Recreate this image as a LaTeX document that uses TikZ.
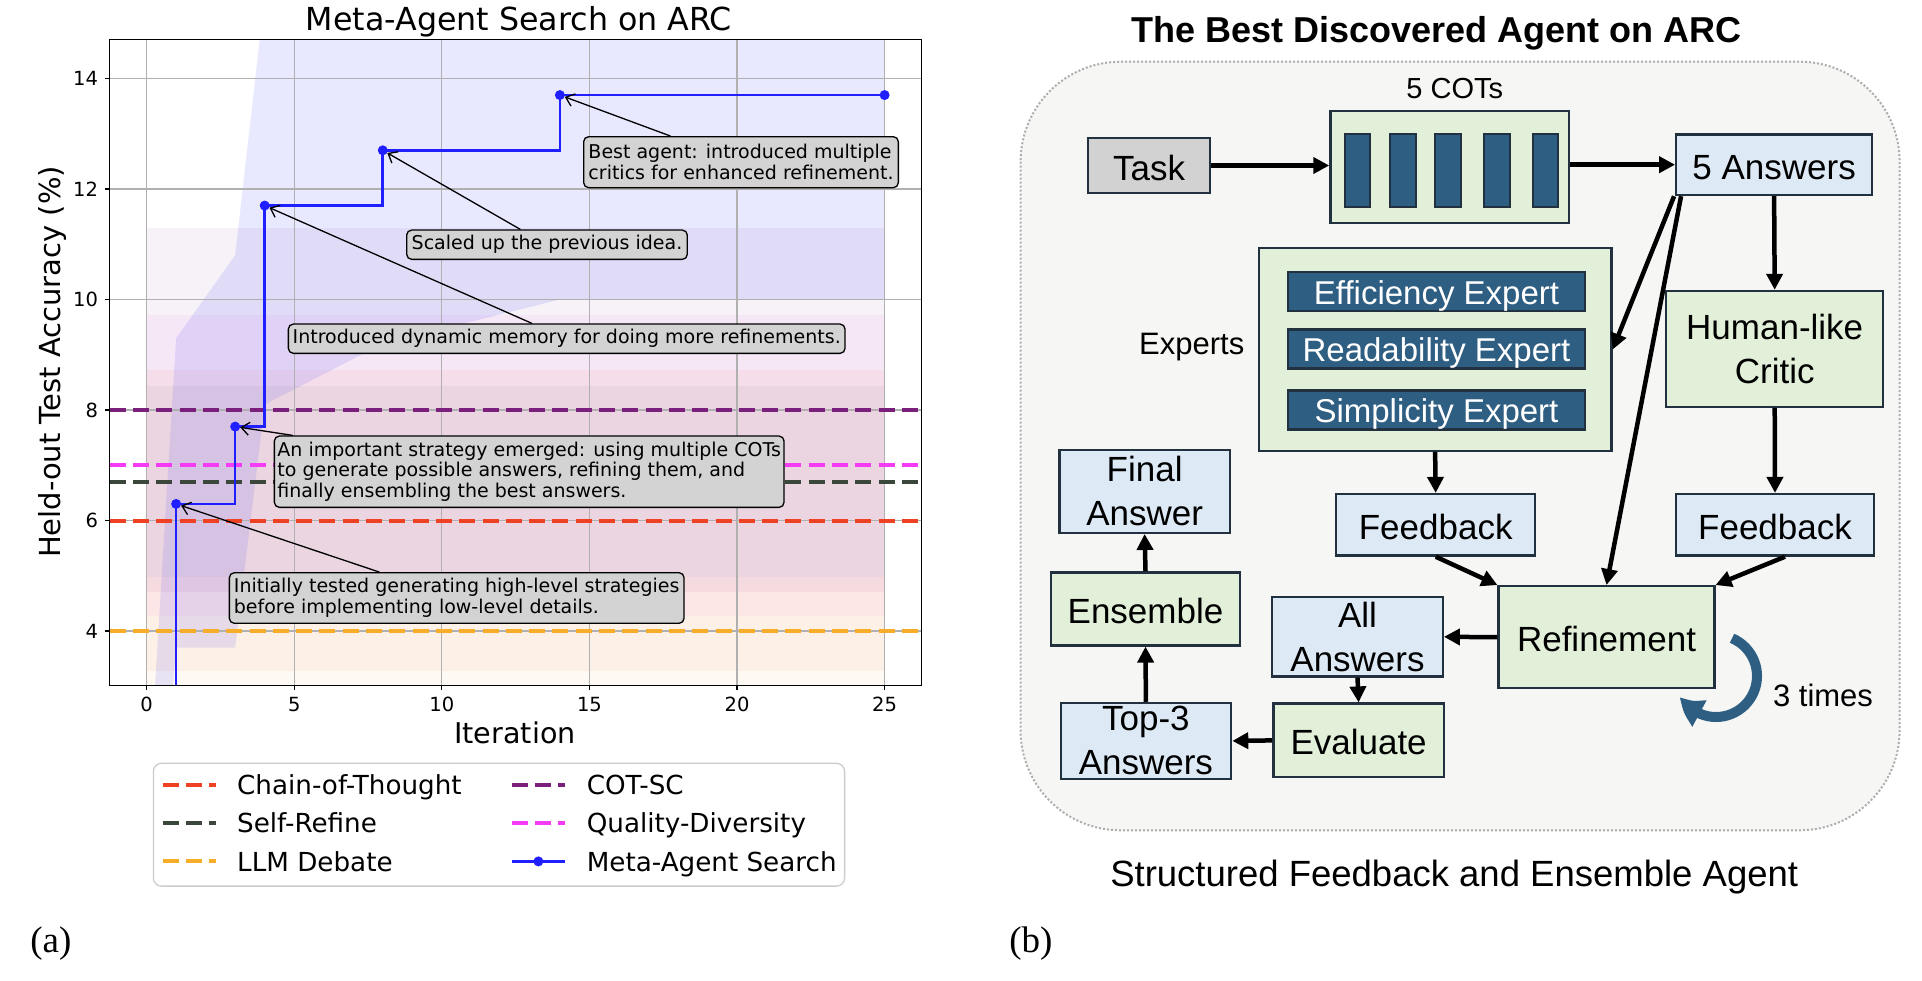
\documentclass[tikz,border=0pt]{standalone}
\usepackage{fontspec}
\newfontfamily\dvs{DejaVu Sans}
\newfontfamily\lsans{Liberation Sans}
\newfontfamily\lserif{Liberation Serif}
\usetikzlibrary{arrows.meta,bending}
\definecolor{cotred}{HTML}{EF4123}
\definecolor{srgray}{HTML}{3C473C}
\definecolor{llmorange}{HTML}{F5AD2A}
\definecolor{cotsc}{HTML}{7B1F7D}
\definecolor{qdmag}{HTML}{F53BF5}
\definecolor{metablue}{HTML}{1F1FFF}
\definecolor{gridgray}{HTML}{B0B0B0}
\definecolor{boxedge}{HTML}{22313F}
\definecolor{taskgray}{HTML}{D2D2D2}
\definecolor{lblue}{HTML}{DDEAF6}
\definecolor{lgreen}{HTML}{E2F0D9}
\definecolor{dblue}{HTML}{2E5E82}
\definecolor{panelbg}{HTML}{F6F6F5}
\definecolor{paneledge}{HTML}{ADADAD}
\definecolor{annfill}{HTML}{D3D3D3}
\definecolor{legedge}{HTML}{CCCCCC}
\tikzset{
  gridline/.style={gridgray, line width=1.3pt},
  baseln/.style={line width=4pt, dash pattern=on 16pt off 7.3pt},
  band/.style={fill opacity=0.055},
  mkr/.style={circle, fill=metablue, inner sep=0pt, minimum size=10pt},
  ticklbl/.style={font=\dvs\fontsize{19.5}{22}\selectfont, inner sep=0pt},
  annbox/.style={draw=black, line width=1.3pt, fill=annfill, rounded corners=5pt, align=left, inner sep=0pt, font=\dvs\fontsize{19}{20.7}\selectfont},
  annarrow/.style={line width=1.3pt, -{Straight Barb[length=8pt,width=13pt]}},
  legtext/.style={font=\dvs\fontsize{26.2}{28}\selectfont, anchor=base west, inner sep=0pt},
  rbox/.style={draw=boxedge, line width=2.3pt, inner sep=0pt, align=center, font=\lsans\fontsize{35}{44}\selectfont},
  oneline/.style={text height=29pt, text depth=0pt},
  greenbox/.style={rbox, fill=lgreen},
  bluebox/.style={rbox, fill=lblue},
  expbox/.style={rbox, fill=dblue, text=white, font=\lsans\fontsize{33}{40}\selectfont, minimum width=297pt, minimum height=39pt, text height=25.6pt, text depth=0pt},
  cotbar/.style={draw=boxedge, line width=2pt, fill=dblue, minimum width=25.5pt, minimum height=72.4pt, inner sep=0pt},
  arr/.style={line width=4.5pt, -{Triangle[length=16pt,width=16pt]}},
  plainlbl/.style={inner sep=0pt},
}
\begin{document}
\begin{tikzpicture}[x=1pt,y=-1pt]
\useasboundingbox (0,0) rectangle (1922,980);
\fill[white] (0,0) rectangle (1922,980);

% ================= LEFT: plot =================
\node[plainlbl, font=\dvs\fontsize{31.7}{34}\selectfont, anchor=base] (ltitle) at (519,30.7) {Meta-Agent Search on ARC};
\node[plainlbl, font=\dvs\fontsize{29}{32}\selectfont, rotate=90] (ylab) at (52,362) {Held-out Test Accuracy (\%)};
\node[plainlbl, font=\dvs\fontsize{28.6}{32}\selectfont] (xlab) at (515,733) {Iteration};

\begin{scope}[shift={(146.6pt,-852pt)}, x={(29.52pt,0pt)}, y={(0pt,55.25pt)}]
  \begin{scope}
    \clip (-1.25,3.02) rectangle (26.25,14.70);
    % baseline confidence bands
    \fill[cotsc, band] (0,4.7) rectangle (25,11.3);
    \fill[qdmag, band] (0,4.28) rectangle (25,9.72);
    \fill[srgray, band] (0,4.97) rectangle (25,8.43);
    \fill[cotred, band] (0,3.28) rectangle (25,8.72);
    \fill[llmorange, band] (0,2.5) rectangle (25,4.97);
    % Meta-Agent Search band
    \fill[metablue, fill opacity=0.1] (0,0.5) -- (1,9.3) -- (3,10.8) -- (4,15.5) -- (8,16) -- (14,16) -- (25,16)
      -- (25,10) -- (14,10) -- (8,9.2) -- (4,8.1) -- (3,3.7) -- (1,3.7) -- (0,-3) -- cycle;
    % grid
    \foreach \t in {0,5,...,25} \draw[gridline] (\t,3.02) -- (\t,14.70);
    \foreach \t in {4,6,...,14} \draw[gridline] (-1.25,\t) -- (26.25,\t);
    % baselines
    \draw[baseln, cotred] (-1.25,6) -- (26.25,6);
    \draw[baseln, srgray] (-1.25,6.7) -- (26.25,6.7);
    \draw[baseln, llmorange] (-1.25,4) -- (26.25,4);
    \draw[baseln, cotsc] (-1.25,8) -- (26.25,8);
    \draw[baseln, qdmag] (-1.25,7) -- (26.25,7);
    % meta agent search
    \draw[metablue, line width=2.6pt] (1,2) -- (1,6.3) -- (3,6.3) -- (3,7.7) -- (4,7.7) -- (4,11.7) -- (8,11.7)
      -- (8,12.7) -- (14,12.7) -- (14,13.7) -- (25,13.7);
  \end{scope}
  \node[mkr] (m1) at (1,6.3) {};
  \node[mkr] (m2) at (3,7.7) {};
  \node[mkr] (m3) at (4,11.7) {};
  \node[mkr] (m4) at (8,12.7) {};
  \node[mkr] (m5) at (14,13.7) {};
  \node[mkr] (m6) at (25,13.7) {};
  % spines and ticks
  \draw[line width=1.3pt] (-1.25,3.02) rectangle (26.25,14.70);
  \foreach \t in {0,5,...,25} {
    \draw[line width=1.3pt] (\t,3.02) -- ++(0pt,-5pt);
    \node[ticklbl] (xt\t) at ([yshift=-19.4pt]\t,3.02) {\t};
  }
  \foreach \t in {4,6,...,14} {
    \draw[line width=1.3pt] (-1.25,\t) -- ++(-5pt,0pt);
    \node[ticklbl, anchor=east] (yt\t) at ([xshift=-11.5pt]-1.25,\t) {\t};
  }
\end{scope}

% annotations
\node[annbox, minimum width=314.7pt, minimum height=51pt] (ann1) at (741,162.2) {Best agent: introduced multiple\\critics for enhanced refinement.};
\node[annbox, minimum width=280.6pt, minimum height=29.3pt] (ann2) at (547,244.7) {Scaled up the previous idea.};
\node[annbox, minimum width=556.7pt, minimum height=29.3pt] (ann3) at (566.7,338.7) {Introduced dynamic memory for doing more refinements.};
\node[annbox, minimum width=509.7pt, minimum height=71.3pt] (ann4) at (529.2,471.7) {An important strategy emerged: using multiple COTs\\to generate possible answers, refining them, and\\finally ensembling the best answers.};
\node[annbox, minimum width=454.7pt, minimum height=50.6pt] (ann5) at (456.7,598) {Initially tested generating high-level strategies\\before implementing low-level details.};
\draw[annarrow] (ann1) -- (m5);
\draw[annarrow] (ann2) -- (m4);
\draw[annarrow] (ann3) -- (m3);
\draw[annarrow] (ann4) -- (m2);
\draw[annarrow] (ann5) -- (m1);

% legend
\draw[legedge, line width=1.3pt, fill=white, rounded corners=8pt] (153.4,763.3) rectangle (844.6,886.1);
\draw[baseln, cotred] (162.5,784.7) -- (216.1,784.7);
\draw[baseln, srgray] (162.5,822.9) -- (216.1,822.9);
\draw[baseln, llmorange] (162.5,861.4) -- (216.1,861.4);
\draw[baseln, cotsc] (511.6,784.7) -- (565.2,784.7);
\draw[baseln, qdmag] (511.6,822.9) -- (565.2,822.9);
\draw[metablue, line width=2.6pt] (511.6,861.4) -- (565.2,861.4);
\node[mkr] (lgm) at (538.4,861.4) {};
\node[legtext] (lg1) at (237,794.3) {Chain-of-Thought};
\node[legtext] (lg2) at (237,832.5) {Self-Refine};
\node[legtext] (lg3) at (237,871) {LLM Debate};
\node[legtext] (lg4) at (586.6,794.3) {COT-SC};
\node[legtext] (lg5) at (586.6,832.5) {Quality-Diversity};
\node[legtext] (lg6) at (586.6,871) {Meta-Agent Search};

\node[plainlbl, font=\lserif\fontsize{37}{40}\selectfont] (lbla) at (50.8,943.5) {(a)};

% ================= RIGHT: agent diagram =================
\node[plainlbl, font=\lsans\bfseries\fontsize{36}{40}\selectfont, anchor=base] (rtitle) at (1436.9,42.7) {The Best Discovered Agent on ARC};
\draw[paneledge, line width=2pt, dash pattern=on 2pt off 2pt, fill=panelbg, rounded corners=100pt] (1020.6,61.7) rectangle (1899.6,830.3);

\node[rbox, oneline, fill=taskgray, minimum width=122pt, minimum height=55.6pt] (task) at (1149,165.5) {Task};
\node[greenbox, minimum width=238.8pt, minimum height=111.7pt] (cots) at (1449.8,166.9) {};
\node[cotbar] (bar1) at (1357.5,170.5) {};
\node[cotbar] (bar2) at (1402.8,170.5) {};
\node[cotbar] (bar3) at (1448,170.5) {};
\node[cotbar] (bar4) at (1496.9,170.5) {};
\node[cotbar] (bar5) at (1545.6,170.5) {};
\node[plainlbl, font=\lsans\fontsize{29}{32}\selectfont] (cotslbl) at (1454.8,88.5) {5 COTs};
\node[bluebox, oneline, minimum width=195.8pt, minimum height=60.7pt] (ans5) at (1774.1,164.7) {5 Answers};

\node[greenbox, minimum width=352.8pt, minimum height=202.4pt] (experts) at (1435.1,349.5) {};
\node[expbox] (eff) at (1436.5,291.3) {Efficiency Expert};
\node[expbox] (read) at (1436.5,349) {Readability Expert};
\node[expbox] (simp) at (1436.5,410) {Simplicity Expert};
\node[plainlbl, font=\lsans\fontsize{31}{34}\selectfont] (explbl) at (1191.7,346.7) {Experts};

\node[greenbox, minimum width=217pt, minimum height=115.7pt] (critic) at (1774.7,348.8) {Human-like\\Critic};
\node[bluebox, minimum width=170.5pt, minimum height=82.8pt] (final) at (1144.6,491.4) {Final\\Answer};
\node[bluebox, oneline, minimum width=198.8pt, minimum height=61.5pt] (fbl) at (1435.7,524.8) {Feedback};
\node[bluebox, oneline, minimum width=197.6pt, minimum height=61.5pt] (fbr) at (1775,524.8) {Feedback};
\node[greenbox, oneline, minimum width=215.8pt, minimum height=102pt] (refine) at (1606.5,637.2) {Refinement};
\node[bluebox, minimum width=170.5pt, minimum height=79.4pt] (allans) at (1357.5,636.8) {All\\Answers};
\node[greenbox, oneline, minimum width=188.7pt, minimum height=73pt] (ensemble) at (1145.5,608.9) {Ensemble};
\node[bluebox, minimum width=170.5pt, minimum height=76pt] (top3) at (1145.9,740.9) {Top-3\\Answers};
\node[greenbox, oneline, minimum width=170.5pt, minimum height=73.7pt] (evaluate) at (1358.6,740.4) {Evaluate};

\draw[arr] (task.east) -- (task.east -| cots.west);
\draw[arr] (cots.east |- ans5.west) -- (ans5.west);
\draw[arr] (ans5.south) -- (critic.north);
\draw[arr] (critic.south) -- (fbr.north);
\draw[arr] (experts.south) -- (fbl.north);
\draw[arr] ([xshift=-1pt]ans5.south west) -- (experts.east);
\draw[arr] ([xshift=6pt]ans5.south west) -- (refine.north);
\draw[arr] (fbl.south) -- (refine.north west);
\draw[arr] ([xshift=10pt]fbr.south) -- (refine.north east);
\draw[arr] (refine.west) -- (allans.east);
\draw[arr] (allans.south) -- (evaluate.north);
\draw[arr] (evaluate.west) -- (top3.east);
\draw[arr] (top3.north) -- (ensemble.south);
\draw[arr] (ensemble.north) -- (final.south);

\coordinate (loopc) at (1716,676);
\draw[dblue, line width=10pt, -{Triangle[length=26pt,width=28pt,bend]}] (loopc) ++(-67:41) arc[start angle=-67, end angle=150, radius=41];
\node[plainlbl, font=\lsans\fontsize{31}{34}\selectfont] (times) at (1823,695.7) {3 times};

\node[plainlbl, font=\lsans\fontsize{36.5}{40}\selectfont, anchor=base] (rcap) at (1454.2,886.1) {Structured Feedback and Ensemble Agent};
\node[plainlbl, font=\lserif\fontsize{37}{40}\selectfont] (lblb) at (1030.9,943.5) {(b)};
\end{tikzpicture}
\end{document}
